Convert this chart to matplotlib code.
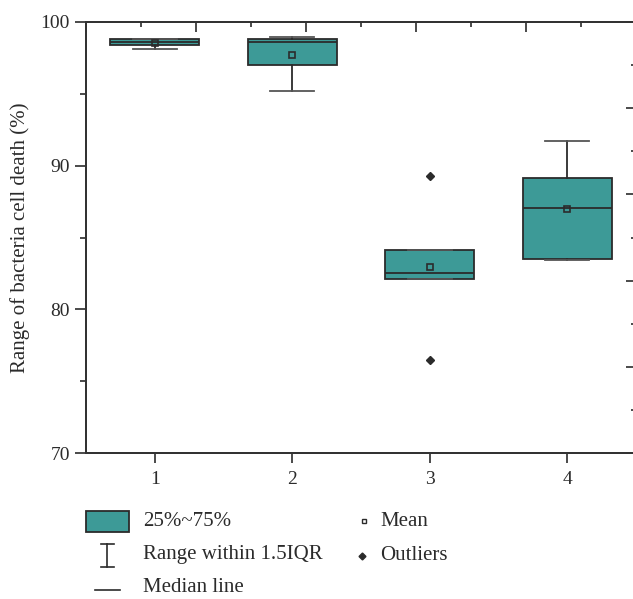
import matplotlib.pyplot as plt
from matplotlib.patches import Rectangle
from matplotlib.lines import Line2D
from matplotlib.ticker import MultipleLocator

plt.rcParams['font.family'] = ['Liberation Serif', 'DejaVu Serif']

groups = [1, 2, 3, 4]
q1 = [98.42, 96.99, 82.12, 83.53]
q3 = [98.80, 98.84, 84.13, 89.12]
medians = [98.59, 98.63, 82.51, 87.03]
means = [98.52, 97.73, 82.93, 86.96]
whisk_lo = [98.12, 95.20, 82.12, 83.44]
whisk_hi = [98.80, 98.94, 84.13, 91.74]
outliers = [[], [], [89.31, 76.50], []]

teal = '#3d9a97'
dark = '#2b2b2b'

stats = []
for i in range(len(groups)):
    stats.append(dict(med=medians[i], q1=q1[i], q3=q3[i], whislo=whisk_lo[i],
                      whishi=whisk_hi[i], mean=means[i], fliers=outliers[i],
                      label=str(groups[i])))

fig = plt.figure(figsize=(6.33, 5.99), dpi=100)
ax = fig.add_axes([86 / 633, 146 / 599, 550 / 633, 431 / 599])

ax.bxp(stats, positions=groups, widths=0.65, capwidths=0.32, patch_artist=True,
       showmeans=True, showfliers=True,
       boxprops=dict(facecolor=teal, edgecolor=dark, linewidth=1.3),
       medianprops=dict(color=dark, linewidth=1.3),
       whiskerprops=dict(color=dark, linewidth=1.3),
       capprops=dict(color='#555555', linewidth=1.3),
       meanprops=dict(marker='s', markersize=5, markerfacecolor='none',
                      markeredgecolor=dark, markeredgewidth=1.2),
       flierprops=dict(marker='D', markersize=4.5, markerfacecolor=dark,
                       markeredgecolor=dark))

ax.set_xlim(0.5, 4.5)
ax.set_ylim(70, 100)
ax.set_xticks(groups)
ax.set_xticklabels([str(g) for g in groups])
ax.yaxis.set_major_locator(MultipleLocator(10))
ax.yaxis.set_minor_locator(MultipleLocator(5))
ax.tick_params(axis='y', which='major', length=8, width=1.2, labelsize=14, colors=dark)
ax.tick_params(axis='y', which='minor', length=4, width=1.2, colors=dark)
ax.tick_params(axis='x', which='major', length=7, width=1.2, labelsize=14, colors=dark, pad=6)
for s in ax.spines.values():
    s.set_color('#333333')
    s.set_linewidth(1.3)
ax.set_ylabel('Range of bacteria cell death (%)', fontsize=15, color=dark, labelpad=8)

# top and right frame ticks, on their own scale
axt = ax.twiny()
axt.set_xlim(0, 5)
axt.xaxis.set_major_locator(MultipleLocator(1))
axt.xaxis.set_minor_locator(MultipleLocator(0.5))
axt.tick_params(axis='x', which='major', direction='in', length=7, width=1.2,
                labeltop=False, colors=dark)
axt.tick_params(axis='x', which='minor', direction='in', length=3.5, width=1.2, colors=dark)
axr = ax.twinx()
axr.set_ylim(0, 5)
axr.yaxis.set_major_locator(MultipleLocator(1))
axr.yaxis.set_minor_locator(MultipleLocator(0.5))
axr.tick_params(axis='y', which='major', direction='in', length=7, width=1.2,
                labelright=False, colors=dark)
axr.tick_params(axis='y', which='minor', direction='in', length=3.5, width=1.2, colors=dark)
for a in (axt, axr):
    for s in a.spines.values():
        s.set_color('#333333')
        s.set_linewidth(1.3)

# key below the plot
lax = fig.add_axes([0, 0, 1, 1])
lax.set_xlim(0, 633)
lax.set_ylim(599, 0)
lax.axis('off')
lax.add_patch(Rectangle((86, 511), 43, 21, facecolor=teal, edgecolor=dark, linewidth=1.3))
lax.add_line(Line2D([107, 107], [544, 567], color=dark, linewidth=1.2))
lax.add_line(Line2D([101, 114], [544, 544], color=dark, linewidth=1.2))
lax.add_line(Line2D([101, 114], [567, 567], color=dark, linewidth=1.2))
lax.add_line(Line2D([95, 120], [590, 590], color=dark, linewidth=1.2))
lax.plot([364], [521], marker='s', markersize=3.5, markerfacecolor='white',
         markeredgecolor=dark, markeredgewidth=1)
lax.plot([362], [556], marker='D', markersize=3.5, color=dark)
key_text = [(143, 521, '25%~75%'), (143, 555, 'Range within 1.5IQR'),
            (143, 588, 'Median line'), (380, 521, 'Mean'), (380, 555, 'Outliers')]
for x, y, t in key_text:
    lax.text(x, y, t, fontsize=15, color=dark, va='center', ha='left')

fig.savefig('out.png', dpi=100)
